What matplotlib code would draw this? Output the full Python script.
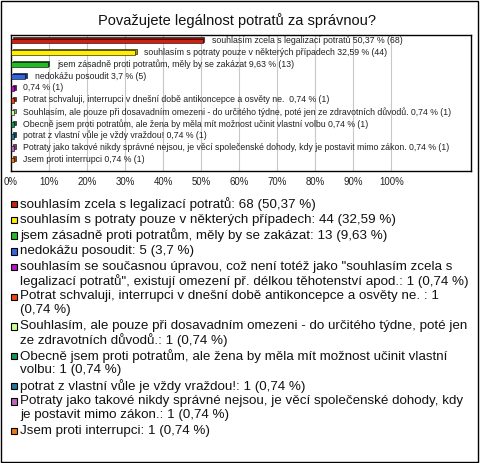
import matplotlib
matplotlib.use("Agg")
import matplotlib.pyplot as plt
from matplotlib.patches import Rectangle

plt.rcParams['font.family'] = ['Liberation Sans', 'DejaVu Sans']

title = "Považujete legálnost potratů za správnou?"
categories = [
    "souhlasím zcela s legalizací potratů",
    "souhlasím s potraty pouze v některých případech",
    "jsem zásadně proti potratům, měly by se zakázat",
    "nedokážu posoudit",
    "souhlasím se současnou úpravou, což není totéž jako \"souhlasím zcela s legalizací potratů\", existují omezení př. délkou těhotenství apod.",
    "Potrat schvaluji, interrupci v dnešní době antikoncepce a osvěty ne. ",
    "Souhlasím, ale pouze při dosavadním omezeni - do určitého týdne, poté jen ze zdravotních důvodů.",
    "Obecně jsem proti potratům, ale žena by měla mít možnost učinit vlastní volbu",
    "potrat z vlastní vůle je vždy vraždou!",
    "Potraty jako takové nikdy správné nejsou, je věcí společenské dohody, kdy je postavit mimo zákon.",
    "Jsem proti interrupci",
]
# name shown next to bar (5th answer has no name beside its bar)
bar_names = categories[:4] + [""] + categories[5:]
counts = [68, 44, 13, 5, 1, 1, 1, 1, 1, 1, 1]
percents = [50.37, 32.59, 9.63, 3.7, 0.74, 0.74, 0.74, 0.74, 0.74, 0.74, 0.74]
colors = ["#cc2211", "#ffee00", "#22bb22", "#3366dd", "#bb11cc", "#ee4411",
          "#ccff99", "#119955", "#227799", "#bb66bb", "#ee7711"]
dark_colors = ["#881100", "#aa9900", "#117711", "#1a3388", "#770088", "#992200",
               "#88aa66", "#0a6633", "#114455", "#774477", "#994400"]
xticks = list(range(0, 101, 10))
xtick_labels = [f"{t}%" for t in xticks]
wrap_before = {4: "legalizací", 5: "(0,74", 6: "ze zdravotních", 7: "volbu:", 9: "je postavit"}

W, H = 480, 463
fig = plt.figure(figsize=(W / 100, H / 100), dpi=100)

def fx(px):
    return px / W

def fy(py):
    return 1 - py / H

fig.add_artist(Rectangle((fx(0.5), fy(462)), fx(477), 461 / H, transform=fig.transFigure,
                         fill=False, edgecolor="black", lw=1.0))

fig.text(fx(237), fy(21), title, ha="center", va="center", fontsize=10.5, color="#111111")

ax = fig.add_axes([fx(11), fy(171), fx(471 - 11), (171 - 35) / H])
ax.set_xlim(0, 120.9)
ax.set_ylim(10.92, -0.5)
for t in xticks[1:]:
    ax.axvline(t, color="#c8c8c8", lw=0.8, zorder=0)

h = 0.4
for i, (p, c, dc) in enumerate(zip(percents, colors, dark_colors)):
    ax.barh(i - 0.12, p, left=0.45, height=h, color=dc, edgecolor="black", lw=0.4, zorder=2)
    ax.barh(i, p, height=h, color=c, edgecolor="black", lw=0.4, zorder=3)
    pct = f"{p:g}".replace(".", ",")
    name = bar_names[i]
    lab = (name + " " if name else "") + f"{pct} % ({counts[i]})"
    ax.annotate(lab, xy=(p, i - 0.05), xytext=(6.8, 0), textcoords="offset points",
                ha="left", va="center", fontsize=6.35, color="#222222", zorder=4)

ax.set_xticks(xticks)
ax.set_xticklabels(xtick_labels, fontsize=6.9, color="#222222")
ax.tick_params(axis="x", length=0, pad=4.5)
ax.set_yticks([])
for s in ax.spines.values():
    s.set_linewidth(1.0)
    s.set_color("black")

# legend
y = 204.0
for i, (cat, n, p, c) in enumerate(zip(categories, counts, percents, colors)):
    pct = f"{p:g}".replace(".", ",")
    label = f"{cat}: {n} ({pct} %)"
    if i in wrap_before:
        key = wrap_before[i]
        label = label.replace(" " + key, "\n" + key, 1)
    lines = label.split("\n")
    fig.add_artist(Rectangle((fx(10.5), fy(y + 3.5)), fx(6.5), 6.5 / H, transform=fig.transFigure,
                             facecolor=c, edgecolor="black", lw=0.8))
    for k, line in enumerate(lines):
        fig.text(fx(20), fy(y), line, ha="left", va="center", fontsize=9.6, color="#111111")
        if k < len(lines) - 1:
            y += 14.0
    y += 15.7

fig.savefig("out.png", dpi=100)
